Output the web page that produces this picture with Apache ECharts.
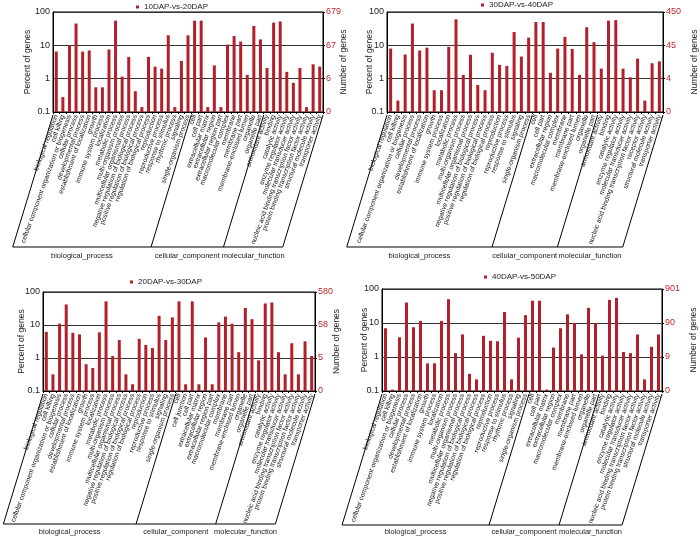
<!DOCTYPE html>
<html><head><meta charset="utf-8">
<script src="https://cdn.jsdelivr.net/npm/echarts@6/dist/echarts.min.js"></script>
<style>html,body{margin:0;padding:0;background:#fff}#c{width:700px;height:538px}</style>
</head><body><div id="c"></div>
<script>
const titles = ['10DAP-vs-20DAP', '30DAP-vs-40DAP', '20DAP-vs-30DAP', '40DAP-vs-50DAP'];
const groupNames = ['biological_process', 'cellular_component', 'molecular_function'];

const cats1 = ['biological regulation','cell killing','cellular component organization or biogenesis','cellular process','developmental process','establishment of localization','growth','immune system process','localization','metabolic process','multi-organism process','multicellular organismal process','negative regulation of biological process','positive regulation of biological process','regulation of biological process','reproduction','reproductive process','response to stimulus','rhythmic process','signaling','single-organism process',
 'cell','cell part','extracellular matrix','extracellular region','extracellular region part','macromolecular complex','membrane','membrane part','membrane-enclosed lumen','organelle','organelle part',
 'antioxidant activity','binding','catalytic activity','enzyme regulator activity','molecular transducer activity','nucleic acid binding transcription factor activity','protein binding transcription factor activity','structural molecule activity','transporter activity'];
const vals1 = [6.5,0.28,10,45,6.5,7,0.55,0.55,7.5,55,1.15,4.5,0.42,0.14,4.5,2.3,2,20,0.14,3.4,20,
 55,55,0.14,2.5,0.14,10.5,19,13,1.3,38,15,
 2.1,48,52,1.6,0.75,2.1,0.14,2.7,2.3];
const groups1 = [21, 11, 9];
const right1 = ['0', '6', '67', '679'];

const cats2 = ['biological regulation','cell killing','cellular component organization or biogenesis','cellular process','developmental process','establishment of localization','growth','immune system process','localization','metabolic process','multi-organism process','multicellular organismal process','negative regulation of biological process','positive regulation of biological process','regulation of biological process','reproduction','reproductive process','response to stimulus','signaling','single-organism process',
 'cell','cell part','extracellular region','macromolecular complex','membrane','membrane part','membrane-enclosed lumen','organelle','organelle part',
 'antioxidant activity','binding','catalytic activity','enzyme regulator activity','molecular transducer activity','nucleic acid binding transcription factor activity','receptor activity','structural molecule activity','transporter activity'];
const vals2 = [8,0.22,5.3,45,7,8.5,0.45,0.45,9,60,1.3,5.2,0.65,0.45,6,2.6,2.4,25,4.6,17,
 50,50,1.5,8,18,7.8,1.3,35,12.5,
 2,55,57,2,1.1,4,0.22,2.9,3.3];
const groups2 = [20, 9, 9];
const right2 = ['0', '4', '45', '450'];

const cats3 = ['biological regulation','cell killing','cellular component organization or biogenesis','cellular process','developmental process','establishment of localization','growth','immune system process','localization','metabolic process','multi-organism process','multicellular organismal process','negative regulation of biological process','positive regulation of biological process','regulation of biological process','reproduction','reproductive process','response to stimulus','signaling','single-organism process',
 'cell','cell junction','cell part','extracellular matrix','extracellular region','extracellular region part','macromolecular complex','membrane','membrane part','membrane-enclosed lumen','organelle','organelle part',
 'antioxidant activity','binding','catalytic activity','enzyme regulator activity','molecular transducer activity','nucleic acid binding transcription factor activity','protein binding transcription factor activity','structural molecule activity','transporter activity'];
const vals3 = [6.2,0.32,11,42,5.8,5.2,0.65,0.5,6,52,1.15,3.5,0.32,0.16,3.8,2.5,2,19,3.5,17,
 52,0.16,52,0.16,4.2,0.16,12,18,11,1.5,33,15,
 0.85,45,48,1.5,0.32,2.8,0.32,3.2,1.15];
const groups3 = [20, 12, 9];
const right3 = ['0', '5', '58', '580'];

const cats4 = ['biological regulation','cell killing','cellular component organization or biogenesis','cellular process','developmental process','establishment of localization','growth','immune system process','localization','metabolic process','multi-organism process','multicellular organismal process','negative regulation of biological process','positive regulation of biological process','regulation of biological process','reproduction','reproductive process','response to stimulus','rhythmic process','signaling','single-organism process',
 'cell','cell part','extracellular matrix','extracellular region','macromolecular complex','membrane','membrane part','membrane-enclosed lumen','organelle','organelle part',
 'antioxidant activity','binding','catalytic activity','enzyme regulator activity','molecular transducer activity','nucleic acid binding transcription factor activity','protein binding transcription factor activity','structural molecule activity','transporter activity'];
const vals4 = [7,0.11,3.8,40,7.5,11.5,0.65,0.65,11.5,50,1.3,4.6,0.32,0.22,4.2,3,2.9,21,0.22,3.7,17,
 45,45,0.11,1.9,7,18,10,1.2,28,10,
 1.1,48,55,1.4,1.3,4.6,0.22,2,4.6];
const groups4 = [21, 10, 9];
const right4 = ['0', '9', '90', '901'];

const catsList = [cats1, cats2, cats3, cats4];
const valsList = [vals1, vals2, vals3, vals4];
const groupsList = [groups1, groups2, groups3, groups4];
const rightList = [right1, right2, right3, right4];

const panels = [
  {left: 53, top: 12, width: 270, height: 100, bBottom: 247, labelY: 256, legL: 136, legT: 3, lGap: 21, rGap: 16},
  {left: 387, top: 12, width: 281, height: 100, bBottom: 247, labelY: 256, legL: 481, legT: 1, lGap: 13, rGap: 27},
  {left: 43, top: 292, width: 272, height: 99, bBottom: 524, labelY: 532, legL: 130, legT: 278, lGap: 17, rGap: 17},
  {left: 382, top: 289, width: 280, height: 102, bBottom: 525, labelY: 532, legL: 484, legT: 273, lGap: 13, rGap: 27}
];
const FONT = 'Liberation Sans, Arial, sans-serif';
const BAR = '#b3202a';
const YMIN = 0.1, YMAX = 100;
const K = 0.305;

const chart = echarts.init(document.getElementById('c'), null, {renderer: 'canvas'});
const option = {
  animation: false,
  backgroundColor: '#fff',
  textStyle: {fontFamily: FONT},
  grid: [], xAxis: [], yAxis: [], series: [], legend: []
};
panels.forEach((p, k) => {
  option.grid.push({left: p.left, top: p.top, width: p.width, height: p.height, show: true, borderColor: '#000', borderWidth: 1, containLabel: false});
  option.xAxis.push({
    type: 'category', gridIndex: k, data: catsList[k], boundaryGap: true,
    axisLine: {lineStyle: {color: '#000', width: 1}},
    axisTick: {show: true, length: 2, lineStyle: {color: '#000'}},
    axisLabel: {interval: 0, rotate: 70, fontSize: 6.7, color: '#111', margin: 3, fontFamily: FONT},
    splitLine: {show: false}
  });
  option.yAxis.push({
    type: 'log', logBase: 10, gridIndex: k, min: YMIN, max: YMAX, position: 'left',
    name: 'Percent of genes', nameLocation: 'middle', nameGap: p.lGap, nameRotate: 90, nameMoveOverlap: false,
    nameTextStyle: {fontSize: 8.5, color: '#222', fontFamily: FONT},
    axisLine: {show: true, lineStyle: {color: '#000'}},
    axisTick: {show: false},
    axisLabel: {fontSize: 9, color: '#222', margin: 3, fontFamily: FONT},
    splitLine: {show: true, lineStyle: {color: '#333', width: 1}},
    minorTick: {show: false}
  });
  const rl = rightList[k];
  option.yAxis.push({
    type: 'log', logBase: 10, gridIndex: k, min: YMIN, max: YMAX, position: 'right',
    name: 'Number of genes', nameLocation: 'middle', nameGap: p.rGap, nameRotate: 90, nameMoveOverlap: false,
    nameTextStyle: {fontSize: 8.5, color: '#222', fontFamily: FONT},
    axisLine: {show: true, lineStyle: {color: '#000'}},
    axisTick: {show: true, length: 2, lineStyle: {color: '#000'}},
    axisLabel: {fontSize: 9, color: '#c0272d', margin: 3, fontFamily: FONT,
      formatter: v => rl[Math.round(Math.log10(v)) + 1]},
    splitLine: {show: false}
  });
  option.series.push({
    type: 'custom', name: titles[k], xAxisIndex: k, yAxisIndex: 2 * k,
    itemStyle: {color: BAR}, clip: true,
    data: valsList[k].map((v, i) => [i, v]),
    encode: {x: 0, y: 1},
    renderItem: (params, api) => {
      const top = api.coord([api.value(0), api.value(1)]);
      const base = api.coord([api.value(0), YMIN]);
      const w = 3;
      return {type: 'rect', shape: {x: top[0] - w / 2, y: top[1], width: w, height: base[1] - top[1]},
        style: {fill: BAR}};
    }
  });
  option.legend.push({
    data: [titles[k]], left: p.legL, top: p.legT, icon: 'rect', itemWidth: 3, itemHeight: 3,
    padding: 0, textStyle: {fontSize: 8, color: '#222', fontFamily: FONT}, selectedMode: false
  });
});
chart.setOption(option);

const g = [];
panels.forEach((p, k) => {
  const c0 = chart.convertToPixel({xAxisIndex: k}, 0);
  const c1 = chart.convertToPixel({xAxisIndex: k}, 1);
  const band = c1 - c0;
  const yTop = chart.convertToPixel({yAxisIndex: 2 * k}, YMIN) + 3;
  const yBot = p.bBottom;
  const dx = (yBot - yTop) * K;
  const bounds = [0];
  let acc = 0;
  groupsList[k].forEach(c => { acc += c; bounds.push(acc); });
  const xb = [];
  bounds.forEach(b => {
    const xt = c0 + (b - 0.5) * band;
    xb.push(xt - dx);
    g.push({type: 'line', silent: true, shape: {x1: xt, y1: yTop, x2: xt - dx, y2: yBot},
      style: {stroke: '#000', lineWidth: 1}});
  });
  g.push({type: 'line', silent: true, shape: {x1: xb[0], y1: yBot, x2: xb[xb.length - 1], y2: yBot},
    style: {stroke: '#000', lineWidth: 1}});
  for (let i = 0; i < 3; i++) {
    g.push({type: 'text', silent: true, x: (xb[i] + xb[i + 1]) / 2, y: p.labelY,
      style: {text: groupNames[i], fill: '#222', font: '7.5px ' + FONT, align: 'center', verticalAlign: 'middle'}});
  }
});
chart.setOption({graphic: g});
</script>
</body></html>
